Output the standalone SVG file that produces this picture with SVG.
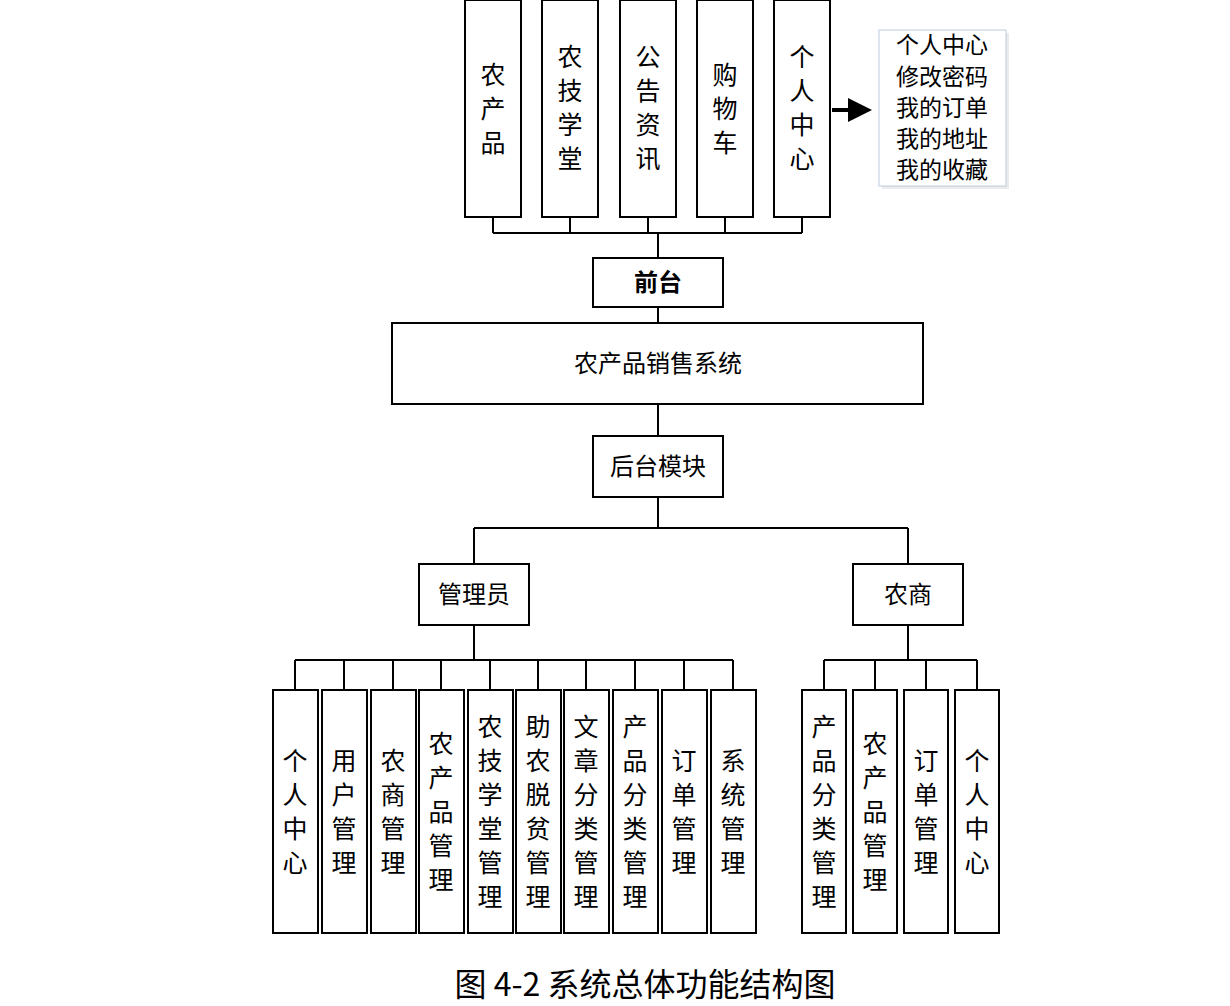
<svg xmlns="http://www.w3.org/2000/svg" width="1230" height="1006" viewBox="0 0 1230 1006">
<style>
.b{fill:#fff;stroke:#000;stroke-width:2}
.l{stroke:#000;stroke-width:2;fill:none}
text{font-family:"Noto Sans CJK SC","Liberation Serif",serif;fill:#000;text-anchor:middle}
.v{font-size:25px}
.h{font-size:24px}
.c{font-size:23px}
</style>
<defs><marker id="a" markerWidth="6" markerHeight="6" refX="5" refY="3" orient="auto"><path d="M0,0L6,3L0,6z" fill="#000"/></marker></defs>
<rect width="1230" height="1006" fill="#fff"/>
<g id="connectors" class="l">
<path d="M493,217V233M570,217V233M648,217V233M725,217V233M802,217V233M493,233H802M658,233V258M658,307V323M658,404V436M658,497V528M474,528H908M474,528V564M908,528V564"/>
<path d="M474,625V660M295,660H733M295,660V690M344,660V690M393,660V690M441,660V690M490,660V690M538,660V690M586,660V690M635,660V690M684,660V690M733,660V690"/>
<path d="M908,625V660M824,660H977M824,660V690M875,660V690M926,660V690M977,660V690"/>
<path d="M832,110H868" stroke-width="4" marker-end="url(#a)"/>
</g>
<g id="top">
<rect class="b" x="465" y="0" width="56" height="217"/><text class="v"><tspan x="493" y="84">农</tspan><tspan x="493" y="118">产</tspan><tspan x="493" y="152">品</tspan></text>
<rect class="b" x="542" y="0" width="56" height="217"/><text class="v"><tspan x="570" y="66">农</tspan><tspan x="570" y="100">技</tspan><tspan x="570" y="134">学</tspan><tspan x="570" y="168">堂</tspan></text>
<rect class="b" x="620" y="0" width="56" height="217"/><text class="v"><tspan x="648" y="66">公</tspan><tspan x="648" y="100">告</tspan><tspan x="648" y="134">资</tspan><tspan x="648" y="168">讯</tspan></text>
<rect class="b" x="697" y="0" width="56" height="217"/><text class="v"><tspan x="725" y="84">购</tspan><tspan x="725" y="118">物</tspan><tspan x="725" y="152">车</tspan></text>
<rect class="b" x="774" y="0" width="56" height="217"/><text class="v"><tspan x="802" y="66">个</tspan><tspan x="802" y="100">人</tspan><tspan x="802" y="134">中</tspan><tspan x="802" y="168">心</tspan></text>
</g>
<g id="callout">
<rect x="882" y="33" width="127" height="156" fill="#ddd" opacity="0.6"/>
<rect x="879" y="30" width="127" height="156" fill="#fff" stroke="#bcd" stroke-width="1"/>
<text class="c"><tspan x="942" y="53">个人中心</tspan><tspan x="942" y="85">修改密码</tspan><tspan x="942" y="116">我的订单</tspan><tspan x="942" y="147">我的地址</tspan><tspan x="942" y="178">我的收藏</tspan></text>
</g>
<g id="qiantai"><rect class="b" x="593" y="258" width="130" height="49"/><text class="h" x="658" y="291" font-weight="bold">前台</text></g>
<g id="system"><rect class="b" x="392" y="323" width="531" height="81"/><text class="h" x="658" y="372">农产品销售系统</text></g>
<g id="houtai"><rect class="b" x="593" y="436" width="130" height="61"/><text class="h" x="658" y="475">后台模块</text></g>
<g id="admin"><rect class="b" x="419" y="564" width="110" height="61"/><text class="h" x="474" y="603">管理员</text></g>
<g id="nongshang"><rect class="b" x="853" y="564" width="110" height="61"/><text class="h" x="908" y="603">农商</text></g>
<g id="adminmods" class="v">
<rect class="b" x="273" y="690" width="45" height="243"/><text><tspan x="295" y="770">个</tspan><tspan x="295" y="804">人</tspan><tspan x="295" y="838">中</tspan><tspan x="295" y="872">心</tspan></text>
<rect class="b" x="322" y="690" width="45" height="243"/><text><tspan x="344" y="770">用</tspan><tspan x="344" y="804">户</tspan><tspan x="344" y="838">管</tspan><tspan x="344" y="872">理</tspan></text>
<rect class="b" x="371" y="690" width="45" height="243"/><text><tspan x="393" y="770">农</tspan><tspan x="393" y="804">商</tspan><tspan x="393" y="838">管</tspan><tspan x="393" y="872">理</tspan></text>
<rect class="b" x="419" y="690" width="45" height="243"/><text><tspan x="441" y="753">农</tspan><tspan x="441" y="787">产</tspan><tspan x="441" y="821">品</tspan><tspan x="441" y="855">管</tspan><tspan x="441" y="889">理</tspan></text>
<rect class="b" x="468" y="690" width="45" height="243"/><text><tspan x="490" y="736">农</tspan><tspan x="490" y="770">技</tspan><tspan x="490" y="804">学</tspan><tspan x="490" y="838">堂</tspan><tspan x="490" y="872">管</tspan><tspan x="490" y="906">理</tspan></text>
<rect class="b" x="516" y="690" width="45" height="243"/><text><tspan x="538" y="736">助</tspan><tspan x="538" y="770">农</tspan><tspan x="538" y="804">脱</tspan><tspan x="538" y="838">贫</tspan><tspan x="538" y="872">管</tspan><tspan x="538" y="906">理</tspan></text>
<rect class="b" x="564" y="690" width="45" height="243"/><text><tspan x="586" y="736">文</tspan><tspan x="586" y="770">章</tspan><tspan x="586" y="804">分</tspan><tspan x="586" y="838">类</tspan><tspan x="586" y="872">管</tspan><tspan x="586" y="906">理</tspan></text>
<rect class="b" x="613" y="690" width="45" height="243"/><text><tspan x="635" y="736">产</tspan><tspan x="635" y="770">品</tspan><tspan x="635" y="804">分</tspan><tspan x="635" y="838">类</tspan><tspan x="635" y="872">管</tspan><tspan x="635" y="906">理</tspan></text>
<rect class="b" x="662" y="690" width="45" height="243"/><text><tspan x="684" y="770">订</tspan><tspan x="684" y="804">单</tspan><tspan x="684" y="838">管</tspan><tspan x="684" y="872">理</tspan></text>
<rect class="b" x="711" y="690" width="45" height="243"/><text><tspan x="733" y="770">系</tspan><tspan x="733" y="804">统</tspan><tspan x="733" y="838">管</tspan><tspan x="733" y="872">理</tspan></text>
</g>
<g id="farmmods" class="v">
<rect class="b" x="802" y="690" width="44" height="243"/><text><tspan x="824" y="736">产</tspan><tspan x="824" y="770">品</tspan><tspan x="824" y="804">分</tspan><tspan x="824" y="838">类</tspan><tspan x="824" y="872">管</tspan><tspan x="824" y="906">理</tspan></text>
<rect class="b" x="853" y="690" width="44" height="243"/><text><tspan x="875" y="753">农</tspan><tspan x="875" y="787">产</tspan><tspan x="875" y="821">品</tspan><tspan x="875" y="855">管</tspan><tspan x="875" y="889">理</tspan></text>
<rect class="b" x="904" y="690" width="44" height="243"/><text><tspan x="926" y="770">订</tspan><tspan x="926" y="804">单</tspan><tspan x="926" y="838">管</tspan><tspan x="926" y="872">理</tspan></text>
<rect class="b" x="955" y="690" width="44" height="243"/><text><tspan x="977" y="770">个</tspan><tspan x="977" y="804">人</tspan><tspan x="977" y="838">中</tspan><tspan x="977" y="872">心</tspan></text>
</g>
<text x="645" y="996" font-size="32">图 4-2 系统总体功能结构图</text>
</svg>
